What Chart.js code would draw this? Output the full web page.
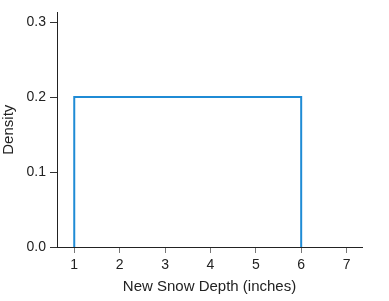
<!DOCTYPE html>
<html>
<head>
<meta charset="utf-8">
<script src="https://cdn.jsdelivr.net/npm/chart.js@4"></script>
<style>
  html, body { margin: 0; padding: 0; background: #fff; }
  #wrap { width: 389px; height: 301px; }
</style>
</head>
<body>
<div id="wrap"><canvas id="chart" width="389" height="301"></canvas></div>
<script>
// uniform density outline
const depthX = [1, 1, 6, 6];
const densityY = [0, 0.2, 0.2, 0];
const xTicks = [1, 2, 3, 4, 5, 6, 7];
const yTicks = [0, 0.1, 0.2, 0.3];

const ctx = document.getElementById('chart').getContext('2d');
new Chart(ctx, {
  type: 'scatter',
  data: {
    datasets: [{
      data: depthX.map((x, i) => ({ x: x, y: densityY[i] })),
      showLine: true,
      borderColor: '#1f8bd5',
      borderWidth: 2,
      pointRadius: 0,
      fill: false,
    }]
  },
  options: {
    responsive: false,
    animation: false,
    layout: { padding: { top: 10, right: 27, left: 0, bottom: 5 } },
    plugins: { legend: { display: false }, tooltip: { enabled: false } },
    scales: {
      x: {
        type: 'linear',
        min: 0.62,
        max: 7.34,
        afterBuildTicks: s => { s.ticks = xTicks.map(v => ({ value: v })); },
        afterFit: s => { s.height = 49; },
        grid: { drawOnChartArea: false, drawTicks: true, tickLength: 6, color: '#777', tickWidth: 1 },
        border: { display: true, color: '#222', width: 1 },
        ticks: { color: '#222', font: { family: 'Liberation Sans', size: 14 }, padding: 4, maxRotation: 0 },
        title: { display: true, text: 'New Snow Depth (inches)', color: '#222', font: { family: 'Liberation Sans', size: 15 }, padding: { top: 0, bottom: 0 } }
      },
      y: {
        min: 0,
        max: 0.313,
        afterBuildTicks: s => { s.ticks = yTicks.map(v => ({ value: v })); },
        afterFit: s => { s.width = 57; },
        grid: { drawOnChartArea: false, drawTicks: true, tickLength: 7, color: '#333', tickWidth: 1 },
        border: { display: true, color: '#222', width: 1 },
        ticks: { color: '#222', font: { family: 'Liberation Sans', size: 14 }, padding: 4, callback: v => v.toFixed(1) },
        title: { display: true, text: 'Density', color: '#222', font: { family: 'Liberation Sans', size: 15 }, padding: { top: 0, bottom: 0 } }
      }
    }
  }
});
</script>
</body>
</html>
